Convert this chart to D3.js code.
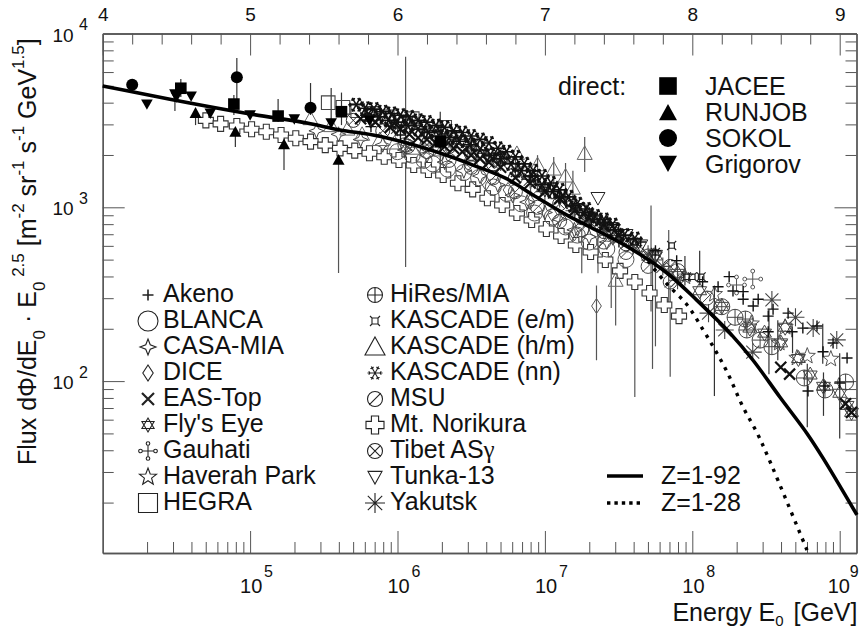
<!DOCTYPE html>
<html><head><meta charset="utf-8">
<script src="https://cdn.jsdelivr.net/npm/d3@7"></script>
<style>html,body{margin:0;padding:0;background:#fff}svg{display:block}text{font-family:"Liberation Sans",Arial,sans-serif;fill:#111}</style>
</head><body><div id="chart"></div>
<script>
// All points are [log10 E0 (GeV), log10 flux]
const norikura=[[4.7,3.5],[4.8,3.48],[4.91,3.468],[5.01,3.449],[5.11,3.435],[5.21,3.416],[5.31,3.397],[5.41,3.378],[5.51,3.358],[5.61,3.339],[5.71,3.326],[5.81,3.311],[5.91,3.291],[6.01,3.272],[6.11,3.243],[6.21,3.215],[6.31,3.186],[6.41,3.138],[6.51,3.103],[6.61,3.052],[6.71,3.013],[6.81,2.967],[6.91,2.927],[7.01,2.875],[7.11,2.835],[7.21,2.783],[7.31,2.743],[7.41,2.697],[7.51,2.634],[7.61,2.57],[7.71,2.507],[7.81,2.438],[7.91,2.374]];
const blanca=[[6.0,3.32],[6.1,3.3],[6.18,3.27],[6.24,3.25],[6.34,3.22],[6.45,3.2],[6.55,3.17],[6.65,3.117],[6.74,3.08],[6.84,3.02],[6.93,2.967],[7.05,2.944],[7.14,2.887],[7.22,2.84],[7.3,2.8],[7.42,2.76],[7.55,2.7]];
const casaMia=[[5.45,3.44],[5.6,3.42],[5.75,3.39],[5.9,3.36],[6.05,3.33],[6.2,3.3],[6.32,3.26],[6.45,3.21],[6.56,3.18],[6.68,3.13],[6.78,3.07],[6.88,3.03],[7.0,2.97],[7.1,2.93],[7.2,2.87],[7.3,2.83],[7.42,2.8]];
const dice=[[6.6,3.14],[6.75,3.1],[6.9,3.03],[7.05,2.96],[7.2,2.85],[7.35,2.432]];
const easTop=[[5.75,3.51],[5.85,3.49],[5.95,3.46],[6.02,3.45],[6.08,3.42],[6.14,3.4],[6.2,3.39],[6.26,3.37],[6.32,3.35],[6.38,3.34],[6.44,3.32],[6.5,3.3],[6.56,3.28],[6.62,3.26],[6.7,3.23],[6.8,3.17],[6.9,3.14],[7.0,3.09],[7.1,3.05],[7.2,2.98],[7.3,2.94],[7.4,2.89],[7.5,2.84],[8.6,2.08],[8.66,2.04],[9.04,1.87],[9.08,1.82]];
const flysEye=[[7.3,2.95],[7.45,2.86],[7.6,2.79],[7.75,2.72],[7.9,2.62],[8.05,2.52],[8.2,2.43],[8.39,2.305],[8.49,2.276],[8.6,2.22],[8.63,2.31],[8.72,2.13],[8.8,2.035],[8.89,1.97],[9.0,1.93],[9.05,1.86],[9.08,1.82]];
const gauhati=[[8.30,2.553],[8.41,2.587]];
const haverah=[[7.95,2.6],[8.15,2.5],[8.4,2.33],[8.59,2.219],[8.63,2.31],[8.71,2.133],[8.78,2.144],[8.94,2.127]];
const hegra=[[5.53,3.602],[5.63,3.575],[5.73,3.556],[5.83,3.54],[5.93,3.52],[6.1,3.51],[6.32,3.46]];
const hires=[[7.9,2.63],[8.2,2.428],[8.29,2.367],[8.36,2.357],[8.37,2.294],[8.46,2.236],[8.54,2.198],[8.76,2.018],[8.9,1.949],[9.04,1.995]];
const kascadeEm=[[6.2,3.42],[6.4,3.38],[6.6,3.31],[6.8,3.2],[7.0,3.1],[7.2,3.0],[7.4,2.9],[7.6,2.8],[7.75,2.74],[7.86,2.78],[7.96,2.6],[8.0,2.6],[8.06,2.6]];
const kascadeHm=[[5.41,3.51],[5.55,3.47],[5.66,3.45],[5.76,3.42],[5.88,3.39],[5.98,3.37],[6.1,3.34],[6.3,3.33],[6.5,3.3],[6.7,3.3],[6.81,3.31],[6.95,3.245],[7.06,3.22],[7.14,3.18],[7.19,3.11],[7.27,3.31],[7.48,2.58]];
const kascadeNn=[[5.72,3.59],[5.78,3.57],[5.84,3.565],[5.9,3.55],[5.96,3.54],[6.02,3.53],[6.08,3.52],[6.14,3.5],[6.2,3.49],[6.26,3.47],[6.32,3.46],[6.38,3.44],[6.44,3.43],[6.5,3.41],[6.56,3.39],[6.62,3.37],[6.68,3.34],[6.74,3.32],[6.8,3.29],[6.86,3.25],[6.92,3.21],[6.98,3.18],[7.04,3.14],[7.1,3.1],[7.16,3.06],[7.22,3.02],[7.28,2.99],[7.34,2.95],[7.4,2.93],[7.46,2.9]];
const kascadeNnMid=[[5.8,3.53],[5.87,3.52],[5.94,3.5],[6.0,3.49],[6.07,3.47],[6.14,3.45],[6.21,3.43],[6.28,3.41],[6.35,3.4],[6.42,3.38],[6.49,3.36],[6.56,3.33],[6.63,3.3],[6.7,3.28],[6.77,3.25],[6.84,3.21],[6.91,3.18],[6.98,3.13],[7.05,3.09],[7.12,3.06],[7.19,3.01],[7.26,2.97],[7.33,2.93],[7.4,2.91],[7.47,2.87],[7.54,2.84],[7.61,2.82]];
const msu=[[6.05,3.36],[6.2,3.32],[6.35,3.27],[6.5,3.23],[6.65,3.17],[6.8,3.09],[6.95,3.0],[7.1,2.92],[7.25,2.87],[7.4,2.8],[7.55,2.74],[7.7,2.66],[7.85,2.57],[8.1,2.478]];
const tibet=[[5.7,3.5],[5.9,3.44],[6.07,3.35],[6.2,3.36],[6.35,3.35],[6.5,3.31],[6.65,3.25],[6.8,3.17],[6.95,3.1],[7.1,3.02],[7.25,2.94],[7.4,2.86],[7.55,2.79],[7.7,2.72],[7.85,2.66]];
const tunka=[[6.55,3.36],[6.7,3.27],[6.85,3.2],[7.0,3.1],[7.15,3.03],[7.25,2.98],[7.36,3.053],[7.45,2.88],[7.55,2.84],[7.65,2.78],[7.75,2.72]];
const yakutsk=[[6.0,3.46],[6.1,3.48],[6.2,3.44],[6.3,3.41],[6.4,3.39],[6.5,3.35],[6.6,3.31],[6.7,3.26],[6.8,3.22],[6.9,3.16],[7.0,3.09],[7.1,3.05],[7.2,2.98],[7.3,2.92],[7.4,2.87],[7.5,2.82],[7.6,2.78],[7.7,2.73],[7.8,2.66],[7.9,2.58],[8.11,2.391],[8.22,2.294],[8.41,2.167],[8.54,2.467],[8.7,2.367],[8.82,2.305],[8.98,2.237]];
const akeno=[[5.82,3.464],[6.02,3.416],[6.3,3.4],[6.5,3.36],[6.7,3.28],[6.9,3.18],[7.1,3.07],[7.3,2.97],[7.5,2.86],[7.65,2.8],[7.75,2.75],[7.894,2.693],[8.07,2.572],[8.175,2.543],[8.25,2.601],[8.276,2.518],[8.345,2.515],[8.345,2.471],[8.447,2.471],[8.413,2.432],[8.548,2.414],[8.515,2.374],[8.515,2.284],[8.65,2.391],[8.75,2.305],[8.846,2.317],[8.677,2.284],[8.955,2.219],[8.887,2.169],[9.05,2.133],[9.0,1.989],[8.9,1.972],[8.785,1.943]];
const jacee=[[4.53,3.685],[4.89,3.594],[5.19,3.525],[5.62,3.55],[6.29,3.377]];
const runjob=[[4.63,3.542],[4.9,3.433],[5.23,3.362],[5.6,3.272]];
const sokol=[[4.2,3.705],[4.91,3.748],[5.41,3.573]];
const grigorov=[[4.3,3.594],[4.49,3.652],[4.5,3.635],[4.6,3.64],[4.73,3.542],[5.0,3.531],[5.3,3.508],[5.55,3.485],[5.81,3.5]];
// vertical error bars: [log10 E0, low log10 flux, high log10 flux]
const errGrey=[[6.055,2.656,3.866],[5.6,2.622,3.272],[6.95,3.1,3.3],[7.06,3.05,3.29],[7.14,3.0,3.255],[7.19,2.95,3.21],[7.27,3.203,3.405],[7.25,2.62,2.87],[7.36,2.62,2.85],[7.45,2.42,2.72],[7.48,2.32,2.6],[7.35,2.12,2.55],[7.61,1.908,2.57],[7.73,2.07,2.72],[7.75,2.2,2.72],[7.85,2.025,2.55],[7.72,2.4,3.01],[7.84,2.45,2.87]];
const errDark=[[4.53,3.635,3.738],[4.89,3.531,3.646],[5.19,3.491,3.623],[5.62,3.473,3.66],[4.91,3.617,3.859],[5.41,3.531,3.715],[4.63,3.473,3.56],[4.9,3.347,3.462],[5.23,3.215,3.428],[4.49,3.554,3.652],[5.55,3.462,3.686],[8.15,1.914,2.54],[8.52,2.04,2.41],[8.78,1.735,2.1],[8.89,1.8,2.05],[9.0,1.67,2.16],[8.885,2.1,2.33],[8.58,2.12,2.35],[8.68,2.16,2.29],[7.95,2.55,2.72],[8.05,2.55,2.75],[6.29,3.2,3.55]];
const lineAll=[[4,3.698],[4.2,3.665],[4.59,3.6],[5.0,3.537],[5.386,3.485],[5.61,3.445],[5.834,3.416],[6.064,3.37],[6.288,3.312],[6.512,3.243],[6.743,3.163],[6.919,3.071],[7.15,2.955],[7.374,2.858],[7.597,2.755],[7.828,2.622],[8.03,2.466],[8.256,2.276],[8.412,2.12],[8.595,1.907],[8.778,1.699],[8.887,1.557],[9.117,1.23]];
const lineFe=[[7.7,2.69],[7.816,2.57],[7.965,2.438],[8.074,2.294],[8.154,2.18],[8.236,2.053],[8.344,1.851],[8.44,1.701],[8.514,1.563],[8.778,1.028]];
const xMajor=[5,6,7,8,9];
const topTicks=[4.2,4.4,4.6,4.8,5.2,5.4,5.6,5.8,6.2,6.4,6.6,6.8,7.2,7.4,7.6,7.8,8.2,8.4,8.6,8.8];
const topLabels=[4,5,6,7,8,9];
const listA=["Akeno","BLANCA","CASA-MIA","DICE","EAS-Top","Fly's Eye","Gauhati","Haverah Park","HEGRA"];
const listB=["HiRes/MIA","KASCADE (e/m)","KASCADE (h/m)","KASCADE (nn)","MSU","Mt. Norikura","Tibet AS","Tunka-13","Yakutsk"];
const listDirect=["JACEE","RUNJOB","SOKOL","Grigorov"];

const W=860,H=635,L=102.7,R=856.5,T=33.5,B=553;
const pxDec=147.4;
const x=d3.scaleLog().domain([1e4,10**(4+(R-L)/pxDec)]).range([L,R]);
const xTop=d3.scaleLinear().domain([4,4+(R-L)/pxDec]).range([L,R]);
const y=d3.scaleLog().domain([10**(4-(B-T)/173.8),1e4]).range([B,T]);
const px=d=>x(10**d[0]), py=d=>y(10**d[1]);
const svg=d3.select("#chart").append("svg").attr("width",W).attr("height",H);

// marker shapes (size = radius)
const poly=(c,pts)=>{pts.forEach((p,i)=>i?c.lineTo(p[0],p[1]):c.moveTo(p[0],p[1]));c.closePath();};
const seg=(c,a,b,e,f)=>{c.moveTo(a,b);c.lineTo(e,f);};
const ring=(c,r)=>{c.moveTo(r,0);c.arc(0,0,r,0,2*Math.PI);};
const S={
 plus:{draw(c,r){seg(c,-r,0,r,0);seg(c,0,-r,0,r);}},
 cross:{draw(c,r){seg(c,-r,-r,r,r);seg(c,-r,r,r,-r);}},
 circle:{draw(c,r){ring(c,r);}},
 square:{draw(c,r){c.rect(-r,-r,2*r,2*r);}},
 diamond:{draw(c,r){poly(c,[[0,-r],[r*.65,0],[0,r],[-r*.65,0]]);}},
 casa:{draw(c,r){const k=r*.28;poly(c,[[0,-r],[k,-k],[r,0],[k,k],[0,r],[-k,k],[-r,0],[-k,-k]]);}},
 david:{draw(c,r){poly(c,[[0,-r],[r*.87,r*.5],[-r*.87,r*.5]]);poly(c,[[0,r],[r*.87,-r*.5],[-r*.87,-r*.5]]);}},
 gauhati:{draw(c,r){const q=r*.24,e=r-q;seg(c,-e,0,e,0);seg(c,0,-e,0,e);[[e+q,0],[-e-q,0],[0,e+q],[0,-e-q]].forEach(p=>{c.moveTo(p[0]+q,p[1]);c.arc(p[0],p[1],q,0,2*Math.PI);});}},
 star:{draw(c,r){const p=[];for(let i=0;i<10;i++){const a=-Math.PI/2+i*Math.PI/5,q=i%2?r*.42:r;p.push([q*Math.cos(a),q*Math.sin(a)]);}poly(c,p);}},
 circlePlus:{draw(c,r){ring(c,r);seg(c,-r,0,r,0);seg(c,0,-r,0,r);}},
 circleX:{draw(c,r){ring(c,r);const q=r*.71;seg(c,-q,-q,q,q);seg(c,-q,q,q,-q);}},
 circleSlash:{draw(c,r){ring(c,r);const q=r*.78;seg(c,-q,q,q,-q);}},
 emSquare:{draw(c,r){const q=r*.6;c.rect(-q,-q,2*q,2*q);seg(c,-r,-r,-q,-q);seg(c,r,-r,q,-q);seg(c,-r,r,-q,q);seg(c,r,r,q,q);}},
 triUp:{draw(c,r){poly(c,[[0,-r],[r,r*.8],[-r,r*.8]]);}},
 triDown:{draw(c,r){poly(c,[[0,r],[r,-r*.8],[-r,-r*.8]]);}},
 snow:{draw(c,r){for(let i=0;i<3;i++){const a=i*Math.PI/3,u=Math.cos(a)*r,v=Math.sin(a)*r;seg(c,-u,-v,u,v);}for(let i=0;i<6;i++){const a=i*Math.PI/3,u=Math.cos(a)*r*.65,v=Math.sin(a)*r*.65;const b=r*.3;seg(c,u,v,u+Math.cos(a+.9)*b,v+Math.sin(a+.9)*b);seg(c,u,v,u+Math.cos(a-.9)*b,v+Math.sin(a-.9)*b);}}},
 aster:{draw(c,r){const q=r*.72;seg(c,-r,0,r,0);seg(c,0,-r,0,r);seg(c,-q,-q,q,q);seg(c,-q,q,q,-q);}},
 norikura:{draw(c,r){const a=r*.4;poly(c,[[-a,-r],[a,-r],[a,-a],[r,-a],[r,a],[a,a],[a,r],[-a,r],[-a,a],[-r,a],[-r,-a],[-a,-a]]);}}
};
const sym=(t,r)=>d3.symbol().type(S[t]).size(r)();

// axes
const axC="#555";
function styleAxis(g){g.select(".domain").attr("stroke",axC).attr("stroke-width",1.3);g.selectAll("line").attr("stroke",axC).attr("stroke-width",1);g.selectAll("text").attr("fill","#111").style("font-size","19px").style("font-family","Liberation Sans");}
const xMinor=[];for(let d=4;d<9;d++)for(let m=2;m<10;m++)xMinor.push(m*10**d);
const yMinor=[];for(let d=1;d<4;d++)for(let m=2;m<10;m++)yMinor.push(m*10**d);
const yMajor=[1e2,1e3];
const add=(ax,tf)=>svg.append("g").attr("transform",tf).call(ax).call(styleAxis);
add(d3.axisBottom(x).tickValues(xMinor).tickSize(-11).tickFormat("").tickSizeOuter(0),`translate(0,${B})`);
add(d3.axisBottom(x).tickValues(xMajor.map(d=>10**d)).tickSize(-22).tickFormat("").tickSizeOuter(0),`translate(0,${B})`);
add(d3.axisTop(xTop).tickValues(topTicks).tickSize(-11).tickFormat("").tickSizeOuter(0),`translate(0,${T})`);
add(d3.axisTop(xTop).tickValues(topLabels).tickSize(-22).tickPadding(13).tickFormat(d3.format("d")).tickSizeOuter(0),`translate(0,${T})`);
add(d3.axisLeft(y).tickValues(yMinor).tickSize(-11).tickFormat("").tickSizeOuter(0),`translate(${L},0)`);
add(d3.axisLeft(y).tickValues(yMajor).tickSize(-22).tickFormat("").tickSizeOuter(0),`translate(${L},0)`);
add(d3.axisRight(y).tickValues(yMinor).tickSize(-11).tickFormat("").tickSizeOuter(0),`translate(${R},0)`);
add(d3.axisRight(y).tickValues(yMajor).tickSize(-22).tickFormat("").tickSizeOuter(0),`translate(${R},0)`);

// text helpers
function rich(t,parts,fs,sfs,subK){t.style("font-size",fs+"px");let prev=0;parts.forEach(p=>{const off=p.s==="sub"?fs*subK:p.s==="sup"?-fs*.48:0;const sp=t.append("tspan").text(p.t).attr("dy",off-prev).style("font-size",(p.s?sfs:fs)+"px");if(p.dx)sp.attr("dx",p.dx);prev=off;});}
const yLabels=[[4,41.5],[3,215],[2,389]];
yLabels.forEach(d=>{const g=svg.append("g");g.append("text").attr("x",52.5).attr("y",d[1]).style("font-size","19px").text("10");g.append("text").attr("x",79).attr("y",d[1]-11.5).style("font-size","16px").text(d[0]);});
xMajor.forEach(d=>{const cx=x(10**d)-(d===9?12:10);svg.append("text").attr("x",cx).attr("y",593).style("font-size","20px").text("10");svg.append("text").attr("x",cx+(d===9?22:24)).attr("y",577).style("font-size","16px").text(d);});
rich(svg.append("text").attr("x",R+1).attr("y",621).attr("text-anchor","end"),[{t:"Energy E"},{t:"0",s:"sub"},{t:" [GeV]",dx:3}],25,15,.2);
rich(svg.append("text").attr("transform","translate(36,465) rotate(-90)"),[{t:"Flux dΦ/dE"},{t:"0",s:"sub"},{t:" · E"},{t:"0",s:"sub"},{t:" 2.5",s:"sup"},{t:" [m"},{t:"-2",s:"sup"},{t:" sr"},{t:"-1",s:"sup"},{t:" s"},{t:"-1",s:"sup"},{t:" GeV"},{t:"1.5",s:"sup"},{t:"]"}],25,17,.36);

// error bars
const bars=(arr,c,w)=>svg.append("g").selectAll("line").data(arr).join("line").attr("x1",d=>x(10**d[0])).attr("x2",d=>x(10**d[0])).attr("y1",d=>y(10**d[1])).attr("y2",d=>y(10**d[2])).attr("stroke",c).attr("stroke-width",w);
bars(errGrey,"#555",1.2);bars(errDark,"#333",1.2);

// data markers
const series=[
 {d:norikura,t:"norikura",r:7.5,fill:"#fff",sw:1.1,c:"#333",lr:9},
 {d:blanca,t:"circle",r:8,c:"#555",sw:1,lr:10},
 {d:casaMia,t:"casa",r:7.5,c:"#444",sw:1,lr:8},
 {d:dice,t:"diamond",r:7.5,c:"#555",sw:1,lr:8},
 {d:kascadeHm,t:"triUp",r:7.5,c:"#666",sw:1,lr:10},
 {d:hegra,t:"square",r:6.8,c:"#444",sw:1.1,lr:9.5},
 {d:msu,t:"circleSlash",r:7,c:"#444",sw:1,lr:7.5},
 {d:tibet,t:"circleX",r:7,c:"#333",sw:1,lr:7.5},
 {d:yakutsk,t:"aster",r:9,c:"#444",sw:1.1,lr:10},
 {d:gauhati,t:"gauhati",r:8,c:"#555",sw:1,lr:7.5},
 {d:haverah,t:"star",r:8.5,c:"#555",sw:1,lr:9},
 {d:flysEye,t:"david",r:8,c:"#444",sw:1,lr:7},
 {d:hires,t:"circlePlus",r:8,c:"#444",sw:1,lr:7.5},
 {d:tunka,t:"triDown",r:7,c:"#222",sw:1,lr:7},
 {d:kascadeNn,t:"snow",r:8,c:"#111",sw:1.6,lr:7.5},
 {d:easTop,t:"cross",r:5.5,c:"#111",sw:2.2,lr:6},
 {d:kascadeEm,t:"emSquare",r:4.5,c:"#222",sw:1.2,lr:5},
 {d:akeno,t:"plus",r:5.5,c:"#111",sw:1.4,lr:5.5}
];
series.forEach(s=>svg.append("g").selectAll("path").data(s.d).join("path")
 .attr("transform",d=>`translate(${px(d)},${py(d)})`).attr("d",sym(s.t,s.r))
 .attr("fill",s.fill||"none").attr("stroke",s.c).attr("stroke-width",s.sw));
svg.append("g").selectAll("path").data(kascadeNnMid).join("path").attr("transform",d=>`translate(${px(d)},${py(d)})`).attr("d",sym("snow",8)).attr("fill","none").attr("stroke","#111").attr("stroke-width",1.6);
[[jacee,"square",5.8],[runjob,"triUp",6],[sokol,"circle",6],[grigorov,"triDown",5.8]].forEach(s=>
 svg.append("g").selectAll("path").data(s[0]).join("path").attr("transform",d=>`translate(${px(d)},${py(d)})`).attr("d",sym(s[1],s[2])).attr("fill","#000"));

// curves
const line=d3.line().x(px).y(py).curve(d3.curveCatmullRom);
svg.append("path").attr("d",line(lineFe)).attr("fill","none").attr("stroke","#000").attr("stroke-width",3.4).attr("stroke-dasharray","3.4 6");
svg.append("path").attr("d",line(lineAll)).attr("fill","none").attr("stroke","#000").attr("stroke-width",3.6);

// legends
const names=listA.concat(listB);
const legendTypes=[17,1,2,3,15,11,9,10,5,12,16,4,14,6,0,7,13,8];
const legendX=[148,375],textX=[163,390];
names.forEach((n,i)=>{const col=i<9?0:1,row=i%9,s=series[legendTypes[i]];
 svg.append("path").attr("transform",`translate(${legendX[col]},${295+26*row})`).attr("d",sym(s.t,s.lr)).attr("fill","none").attr("stroke","#222").attr("stroke-width",s.t==="cross"?2.2:s.t==="plus"?1.6:1.1);
 const t=svg.append("text").attr("x",textX[col]).attr("y",302+26*row).style("font-size","25px").text(n);
 if(n==="Tibet AS")t.append("tspan").text("γ").style("font-family","Liberation Serif");
});
const dirY=[86,113,138,163],dirB=[95,121,147,173];
const dirSym=[["square",8.8],["triUp",9],["circle",9],["triDown",9]];
listDirect.forEach((n,i)=>{
 svg.append("path").attr("transform",`translate(668,${dirY[i]})`).attr("d",sym(dirSym[i][0],dirSym[i][1])).attr("fill","#000");
 svg.append("text").attr("x",705).attr("y",dirB[i]).style("font-size","25px").text(n);
});
svg.append("text").attr("x",558).attr("y",95).style("font-size","25px").text("direct:");
const lgScale=d3.scaleLinear().domain([0,1]).range([607,643]);
svg.append("line").attr("x1",lgScale(0)).attr("x2",lgScale(1)).attr("y1",476).attr("y2",476).attr("stroke","#000").attr("stroke-width",3.6);
svg.append("line").attr("x1",lgScale(0)).attr("x2",lgScale(1)).attr("y1",503).attr("y2",503).attr("stroke","#000").attr("stroke-width",3.4).attr("stroke-dasharray","3.4 4");
svg.append("text").attr("x",661).attr("y",484).style("font-size","25px").text("Z=1-92");
svg.append("text").attr("x",661).attr("y",511).style("font-size","25px").text("Z=1-28");
</script></body></html>
